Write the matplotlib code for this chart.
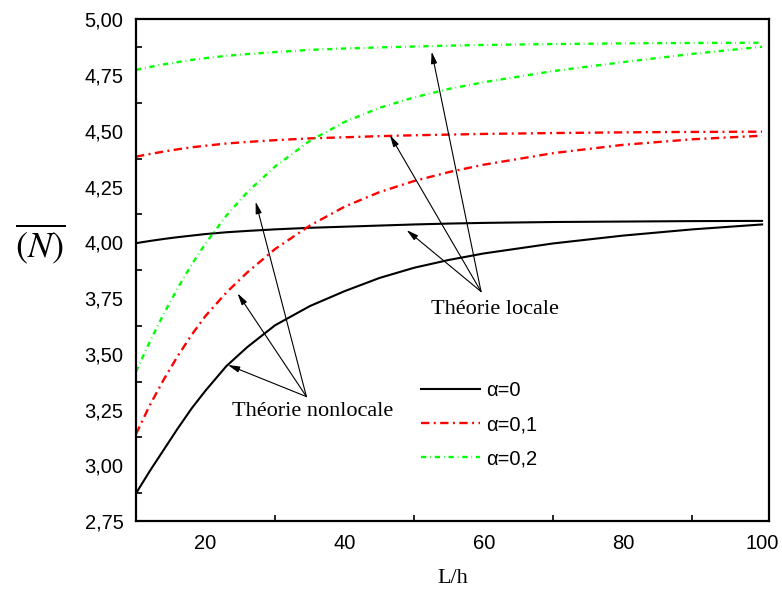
import matplotlib
matplotlib.use("Agg")
import matplotlib.pyplot as plt
from matplotlib.ticker import FixedLocator

plt.rcParams["mathtext.fontset"] = "stix"
plt.rcParams["lines.scale_dashes"] = False

L_h = [10, 12, 14, 16, 18, 20, 23, 26, 30, 35, 40, 45, 50, 55, 60, 70, 80, 90, 100]

# nonlocal theory
nonlocal_a0 = [2.874, 2.975, 3.07, 3.165, 3.255, 3.335, 3.445, 3.53, 3.628, 3.714,
               3.781, 3.84, 3.886, 3.921, 3.95, 3.995, 4.03, 4.058, 4.08]
nonlocal_a01 = [3.14, 3.27, 3.385, 3.49, 3.585, 3.67, 3.775, 3.865, 3.97, 4.075,
                4.16, 4.225, 4.275, 4.315, 4.348, 4.40, 4.437, 4.462, 4.478]
nonlocal_a02 = [3.42, 3.555, 3.68, 3.795, 3.90, 3.995, 4.12, 4.225, 4.34, 4.455,
                4.54, 4.603, 4.65, 4.688, 4.718, 4.768, 4.808, 4.845, 4.877]

# local theory
local_a0 = [3.996, 4.006, 4.015, 4.023, 4.03, 4.037, 4.045, 4.051, 4.058, 4.065,
            4.07, 4.075, 4.08, 4.084, 4.087, 4.091, 4.093, 4.095, 4.096]
local_a01 = [4.384, 4.396, 4.407, 4.417, 4.426, 4.433, 4.443, 4.45, 4.458, 4.466,
             4.471, 4.476, 4.48, 4.483, 4.486, 4.49, 4.493, 4.495, 4.496]
local_a02 = [4.773, 4.786, 4.798, 4.808, 4.818, 4.826, 4.836, 4.844, 4.853, 4.863,
             4.869, 4.874, 4.878, 4.882, 4.885, 4.889, 4.892, 4.894, 4.895]

labels = ["\u03b1=0", "\u03b1=0,1", "\u03b1=0,2"]
x_ticks = [20, 40, 60, 80, 100]
y_ticks = [2.75, 3.00, 3.25, 3.50, 3.75, 4.00, 4.25, 4.50, 4.75, 5.00]

# arrow tips (data coords) for the two annotations
locale_tips = [(48.9, 4.055), (46.5, 4.481), (52.5, 4.855)]
nonlocale_tips = [(23.2, 3.450), (24.6, 3.771), (27.2, 4.182)]

fig = plt.figure(figsize=(7.82, 5.96), dpi=100)
ax = fig.add_axes([0.1739, 0.1258, 0.8095, 0.8418])

red_dash = (0, (6.0, 3.2, 1.4, 3.2))
green_dash = (0, (3.8, 2.8, 0.5, 2.8))

ax.plot(L_h, nonlocal_a0, color="black", lw=1.5, label=labels[0])
ax.plot(L_h, local_a0, color="black", lw=1.5)
ax.plot(L_h, nonlocal_a01, color="#ff0000", lw=1.7, linestyle=red_dash, label=labels[1])
ax.plot(L_h, local_a01, color="#ff0000", lw=1.7, linestyle=red_dash)
ax.plot(L_h, nonlocal_a02, color="#00ff00", lw=1.7, linestyle=green_dash, label=labels[2])
ax.plot(L_h, local_a02, color="#00ff00", lw=1.7, linestyle=green_dash)

ax.set_xlim(10, 101)
ax.set_ylim(2.75, 5.0)

ax.xaxis.set_major_locator(FixedLocator(x_ticks))
ax.xaxis.set_minor_locator(FixedLocator([30, 50, 70, 90]))
ax.yaxis.set_major_locator(FixedLocator(y_ticks))
ax.yaxis.set_minor_locator(FixedLocator([2.875 + 0.25 * i for i in range(9)]))
ax.set_xticklabels([str(t) for t in x_ticks])
ax.set_yticklabels([f"{t:.2f}".replace(".", ",") for t in y_ticks])

ax.tick_params(which="major", length=0, pad=9, labelsize=14.5)
ax.tick_params(which="minor", direction="in", length=4, width=1.2)
for lab in ax.get_xticklabels() + ax.get_yticklabels():
    lab.set_fontfamily("Liberation Sans")
for sp in ax.spines.values():
    sp.set_linewidth(1.6)

ax.set_xlabel("L/h", fontfamily="Liberation Serif", fontsize=16, labelpad=12)
fig.text(0.051, 0.592, r"$\overline{(N)}$", fontsize=26, ha="center", va="center")

arrow = dict(arrowstyle="-|>,head_length=0.7,head_width=0.18", color="black",
             lw=0.8, shrinkA=0, shrinkB=0)
for tip in locale_tips:
    ax.annotate("", xy=tip, xytext=(59.6, 3.779), arrowprops=arrow)
for tip in nonlocale_tips:
    ax.annotate("", xy=tip, xytext=(34.5, 3.308), arrowprops=arrow)
ax.text(61.6, 3.70, "Th\u00e9orie locale", fontfamily="Liberation Serif",
        fontsize=16, ha="center", va="center")
ax.text(35.4, 3.24, "Th\u00e9orie nonlocale", fontfamily="Liberation Serif",
        fontsize=16, ha="center", va="center")

ax.legend(loc="center left", bbox_to_anchor=(0.4376, 0.192), frameon=False,
          prop={"family": "Liberation Sans", "size": 14.5}, handlelength=2.95,
          handletextpad=0.3, labelspacing=0.75, borderaxespad=0)

fig.savefig("out.png", dpi=100)
